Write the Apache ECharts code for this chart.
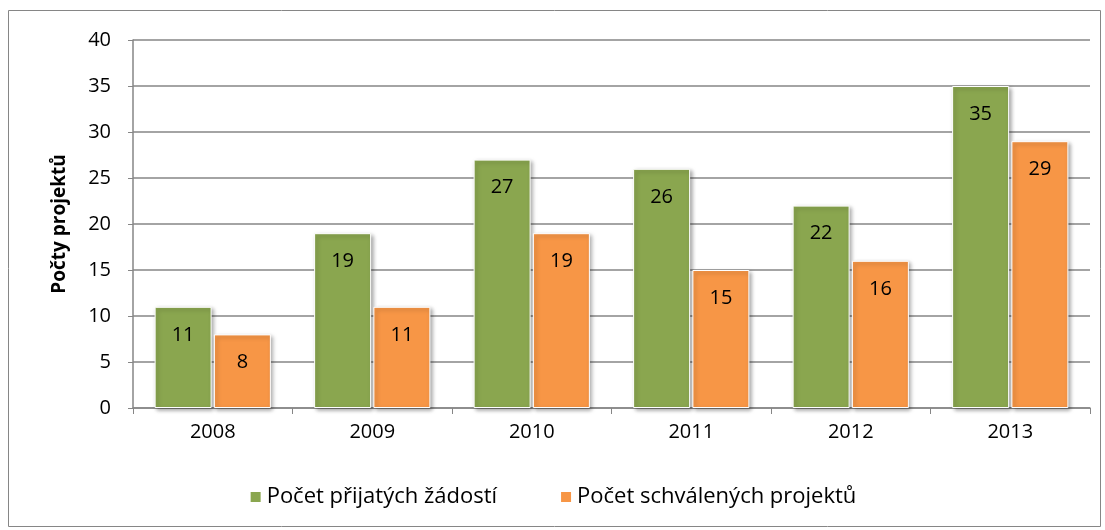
<!DOCTYPE html>
<html>
<head>
<meta charset="utf-8">
<script src="https://cdn.jsdelivr.net/npm/echarts@6/dist/echarts.min.js"></script>
<style>
    body { margin: 0; background: #fff; }
    #chart { width: 1105px; height: 530px; }
</style>
</head>
<body>
<div id="chart"></div>
<script>
var years = ['2008', '2009', '2010', '2011', '2012', '2013'];
var prijate = [11, 19, 27, 26, 22, 35];
var schvalene = [8, 11, 19, 15, 16, 29];
var seriesNames = ['Počet přijatých žádostí', 'Počet schválených projektů'];

var fontName = 'Open Sans';

function barStyle(color) {
    return {
        color: color,
        borderColor: '#fff',
        borderWidth: 1,
        shadowColor: 'rgba(0, 0, 0, 0.35)',
        shadowBlur: 4,
        shadowOffsetX: 2,
        shadowOffsetY: 2
    };
}

var myChart = echarts.init(document.getElementById('chart'));
var option = {
    animation: false,
    textStyle: { fontFamily: fontName },
    graphic: [{
        type: 'rect',
        shape: { x: 8.5, y: 10.5, width: 1092, height: 516 },
        style: { fill: 'none', stroke: '#868686', lineWidth: 1 },
        silent: true
    }],
    grid: { left: 133, right: 15, top: 40, bottom: 122 },
    legend: {
        bottom: 17,
        left: 'center',
        itemWidth: 12,
        itemHeight: 12,
        itemGap: 62,
        icon: 'rect',
        textStyle: { fontSize: 22, color: '#000', fontFamily: fontName },
        data: seriesNames
    },
    xAxis: {
        type: 'category',
        data: years,
        axisLine: { lineStyle: { color: '#868686', width: 1.5 } },
        axisTick: { show: true, length: 6, lineStyle: { color: '#868686' } },
        axisLabel: { fontSize: 20, color: '#000', margin: 14 }
    },
    yAxis: {
        type: 'value',
        min: 0,
        max: 40,
        interval: 5,
        name: 'Počty projektů',
        nameLocation: 'middle',
        nameGap: 64,
        nameTextStyle: { fontSize: 19, fontWeight: 'bold', color: '#000' },
        axisLine: { show: true, lineStyle: { color: '#868686', width: 1.5 } },
        axisTick: { show: true, length: 5, lineStyle: { color: '#868686' } },
        axisLabel: { fontSize: 20, color: '#000', margin: 22 },
        splitLine: { lineStyle: { color: '#868686', width: 1.5 } }
    },
    series: [{
        name: seriesNames[0],
        type: 'bar',
        barWidth: 57,
        barGap: '4%',
        data: prijate,
        itemStyle: barStyle('#8AA64F'),
        label: { show: true, position: 'insideTop', distance: 18, fontSize: 20, color: '#000' }
    }, {
        name: seriesNames[1],
        type: 'bar',
        barWidth: 57,
        barGap: '4%',
        data: schvalene,
        itemStyle: barStyle('#F79646'),
        label: { show: true, position: 'insideTop', distance: 18, fontSize: 20, color: '#000' }
    }]
};
myChart.setOption(option);
</script>
</body>
</html>
